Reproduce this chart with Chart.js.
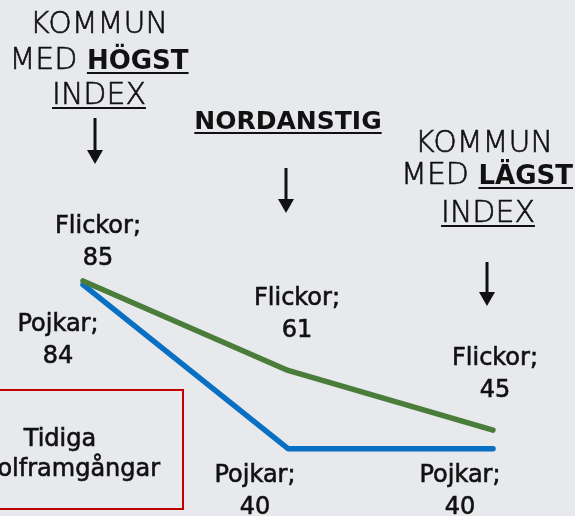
<!DOCTYPE html>
<html>
<head>
<meta charset="utf-8">
<script src="https://cdn.jsdelivr.net/npm/chart.js@4"></script>
<style>
  body { margin: 0; background: #e7e9ec; }
  #wrap { width: 575px; height: 516px; }
</style>
</head>
<body>
<div id="wrap"><canvas id="indexChart" width="575" height="516"></canvas></div>
<script>
// data
const categories = ['Kommun med högst index', 'Nordanstig', 'Kommun med lägst index'];
const flickor = [85, 61, 45];
const pojkar = [84, 40, 40];

// label offsets from each point (px): [dx, dy of first line baseline]
const flickorOffsets = [[15, -48], [9, -65], [2, -65]];
const pojkarOffsets = [[-25, 46], [-33, 33], [-33, 33]];

const LIGHT = '200 30px "DejaVu Sans"';
const BOLD = 'bold 26px "DejaVu Sans"';
const LABEL = '24px "DejaVu Sans"';

// draw pieces of text on one line, centered at cx; pieces = [text, font, underline, stroke]
function drawLine(c, pieces, cx, y) {
  let total = 0;
  pieces.forEach(p => { c.font = p[1]; total += c.measureText(p[0]).width; });
  let x = cx - total / 2;
  pieces.forEach(p => {
    c.font = p[1];
    const w = c.measureText(p[0]).width;
    c.fillText(p[0], x, y);
    if (p[3]) {
      c.lineWidth = p[3];
      c.strokeText(p[0], x, y);
    }
    if (p[2]) {
      c.fillRect(x, y + 3, w, 2);
    }
    x += w;
  });
}

function drawArrow(c, x, y1, y2) {
  c.fillRect(x - 1.5, y1, 3, y2 - y1 - 12);
  c.beginPath();
  c.moveTo(x - 8, y2 - 14);
  c.lineTo(x + 8, y2 - 14);
  c.lineTo(x, y2);
  c.closePath();
  c.fill();
}

const annotations = {
  id: 'annotations',
  afterDatasetsDraw(chart) {
    const c = chart.ctx;
    c.save();
    c.fillStyle = '#111';
    c.strokeStyle = '#111';
    c.textBaseline = 'alphabetic';

    // headers
    drawLine(c, [['KOMMUN', LIGHT, false, 0.6]], 99, 33);
    drawLine(c, [['MED ', LIGHT, false, 0.6], ['HÖGST', BOLD, true]], 99, 69);
    drawLine(c, [['INDEX', LIGHT, true, 0.6]], 99, 104);
    drawArrow(c, 95, 118, 164);

    drawLine(c, [['NORDANSTIG', 'bold 25px "DejaVu Sans"', true]], 288, 129);
    drawArrow(c, 286, 168, 213);

    drawLine(c, [['KOMMUN', LIGHT, false, 0.6]], 484, 152);
    drawLine(c, [['MED ', LIGHT, false, 0.6], ['LÄGST', BOLD, true]], 487, 184);
    drawLine(c, [['INDEX', LIGHT, true, 0.6]], 488, 222);
    drawArrow(c, 487, 262, 306);

    // data labels
    const metaF = chart.getDatasetMeta(0);
    const metaP = chart.getDatasetMeta(1);
    metaF.data.forEach((pt, i) => {
      const [dx, dy] = flickorOffsets[i];
      drawLine(c, [['Flickor;', LABEL, false, 0.6]], pt.x + dx, pt.y + dy);
      drawLine(c, [[String(flickor[i]), LABEL, false, 0.6]], pt.x + dx, pt.y + dy + 32);
    });
    metaP.data.forEach((pt, i) => {
      const [dx, dy] = pojkarOffsets[i];
      drawLine(c, [['Pojkar;', LABEL, false, 0.6]], pt.x + dx, pt.y + dy);
      drawLine(c, [[String(pojkar[i]), LABEL, false, 0.6]], pt.x + dx, pt.y + dy + 32);
    });

    // red box
    drawLine(c, [['Tidiga', LABEL, false, 0.6]], 60, 446);
    drawLine(c, [['skolframgångar', LABEL, false, 0.6]], 66, 476);
    c.strokeStyle = '#c00000';
    c.lineWidth = 2;
    c.strokeRect(-10, 390, 193, 119);

    c.restore();
  }
};

new Chart(document.getElementById('indexChart'), {
  type: 'line',
  data: {
    labels: categories,
    datasets: [
      {
        label: 'Flickor',
        data: flickor,
        borderColor: '#4a7d3a',
        borderWidth: 5.5,
        borderCapStyle: 'round',
        borderJoinStyle: 'round',
        pointRadius: 0,
        tension: 0,
        clip: false
      },
      {
        label: 'Pojkar',
        data: pojkar,
        borderColor: '#0a70c4',
        borderWidth: 5.5,
        borderCapStyle: 'round',
        borderJoinStyle: 'round',
        pointRadius: 0,
        tension: 0,
        clip: false
      }
    ]
  },
  options: {
    responsive: false,
    animation: false,
    devicePixelRatio: 1,
    layout: { padding: { left: 83, right: 82, top: 225, bottom: 30 } },
    scales: {
      x: { display: false, offset: false },
      y: { display: false, min: 30, max: 100 }
    },
    plugins: {
      legend: { display: false },
      tooltip: { enabled: false }
    }
  },
  plugins: [annotations]
});
</script>
</body>
</html>
